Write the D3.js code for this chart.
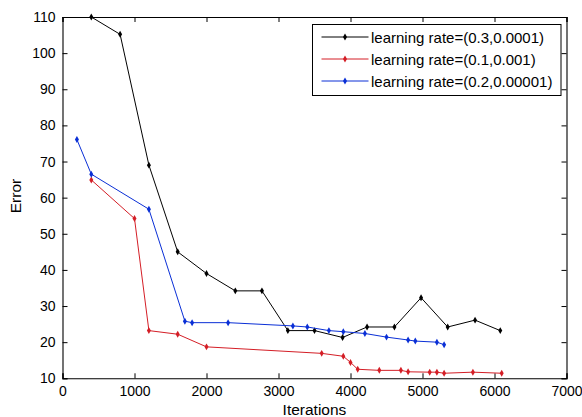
<!DOCTYPE html>
<html>
<head>
<meta charset="utf-8">
<script src="https://cdn.jsdelivr.net/npm/d3@7"></script>
<style>
  body { margin: 0; background: #fff; }
  text { font-family: "Liberation Sans", Arial, sans-serif; fill: #000; }
</style>
</head>
<body>
<svg id="chart" width="582" height="417"></svg>
<script>
// values
const blackX = [400, 800, 1200, 1600, 2000, 2400, 2770, 3130, 3500, 3890, 4230, 4610, 4980, 5350, 5730, 6080]
const blackY = [110, 105.2, 69, 45, 39, 34.2, 34.2, 23.2, 23.2, 21.3, 24.2, 24.2, 32.3, 24.2, 26.1, 23.2]

const redX = [400, 1000, 1200, 1600, 2000, 3600, 3900, 4000, 4100, 4400, 4700, 4800, 5100, 5200, 5300, 5700, 6100]
const redY = [64.9, 54.2, 23.2, 22.2, 18.7, 16.9, 16.1, 14.4, 12.5, 12.2, 12.2, 11.8, 11.7, 11.7, 11.4, 11.7, 11.4]

const blueX = [200, 400, 1200, 1700, 1800, 2300, 3200, 3400, 3700, 3900, 4200, 4500, 4800, 4900, 5200, 5300]
const blueY = [76.1, 66.5, 56.8, 25.8, 25.4, 25.4, 24.5, 24.2, 23.2, 22.9, 22.4, 21.4, 20.6, 20.3, 20.0, 19.3]

const seriesNames = ['learning rate=(0.3,0.0001)', 'learning rate=(0.1,0.001)', 'learning rate=(0.2,0.00001)']
const seriesColors = ['#000000', '#d41e26', '#0a2fd6']

const xTicks = [0, 1000, 2000, 3000, 4000, 5000, 6000, 7000]
const yTicks = [10, 20, 30, 40, 50, 60, 70, 80, 90, 100, 110]

const series = [
  { name: seriesNames[0], color: seriesColors[0], pts: blackX.map((x, i) => [x, blackY[i]]) },
  { name: seriesNames[1], color: seriesColors[1], pts: redX.map((x, i) => [x, redY[i]]) },
  { name: seriesNames[2], color: seriesColors[2], pts: blueX.map((x, i) => [x, blueY[i]]) }
]

const plotLeft = 62.5
const plotRight = 566.5
const plotTop = 17
const plotBottom = 378.3

const svg = d3.select('#chart')
const x = d3.scaleLinear().domain([0, 7000]).range([plotLeft, plotRight])
const y = d3.scaleLinear().domain([10, 110]).range([plotBottom, plotTop])

// axes box with inward ticks on all four sides
svg.append('g')
  .attr('transform', `translate(0,${plotBottom})`)
  .call(d3.axisBottom(x).tickValues(xTicks).tickSize(-5).tickPadding(8).tickFormat(d3.format('d')))
svg.append('g')
  .attr('transform', `translate(0,${plotTop})`)
  .call(d3.axisTop(x).tickValues(xTicks).tickSize(-5).tickFormat(''))
svg.append('g')
  .attr('transform', `translate(${plotLeft},0)`)
  .call(d3.axisLeft(y).tickValues(yTicks).tickSize(-5).tickPadding(7))
svg.append('g')
  .attr('transform', `translate(${plotRight},0)`)
  .call(d3.axisRight(y).tickValues(yTicks).tickSize(-5).tickFormat(''))

svg.selectAll('.domain').attr('stroke', '#000').attr('stroke-width', 1.1)
svg.selectAll('.tick line').attr('stroke', '#000')
svg.selectAll('.tick text')
  .style('font-size', '14px')
  .style('font-family', '"Liberation Sans", Arial, sans-serif')
  .attr('fill', '#111')

const line = d3.line().x(d => x(d[0])).y(d => y(d[1]))
const diamond = d3.symbol(d3.symbolDiamond, 14)

series.forEach(s => {
  svg.append('path')
    .datum(s.pts)
    .attr('d', line)
    .attr('fill', 'none')
    .attr('stroke', s.color)
    .attr('stroke-width', 1)

  svg.append('g').selectAll('path')
    .data(s.pts)
    .enter()
    .append('path')
    .attr('d', diamond)
    .attr('transform', d => `translate(${x(d[0])},${y(d[1])})`)
    .attr('fill', s.color)
})

// axis labels
svg.append('text')
  .attr('x', (plotLeft + plotRight) / 2)
  .attr('y', 415)
  .attr('text-anchor', 'middle')
  .style('font-size', '15.5px')
  .text('Iterations')

svg.append('text')
  .attr('transform', 'translate(21,196) rotate(-90)')
  .attr('text-anchor', 'middle')
  .style('font-size', '15.5px')
  .text('Error')

// legend
const legend = svg.append('g')
legend.append('rect')
  .attr('x', 312.5)
  .attr('y', 24.5)
  .attr('width', 248.5)
  .attr('height', 71)
  .attr('fill', '#fff')
  .attr('stroke', '#000')
  .attr('stroke-width', 1)

const rows = legend.selectAll('.legend-element')
  .data(series)
  .enter()
  .append('g')
  .attr('class', 'legend-element')
  .attr('transform', (d, i) => `translate(0,${37 + i * 22})`)

rows.append('line')
  .attr('x1', 321.5)
  .attr('x2', 368.5)
  .attr('stroke', d => d.color)
  .attr('stroke-width', 1)
rows.append('path')
  .attr('d', diamond)
  .attr('transform', 'translate(345,0)')
  .attr('fill', d => d.color)
rows.append('text')
  .attr('x', 371)
  .attr('y', 5.5)
  .style('font-size', '15px')
  .text(d => d.name)
</script>
</body>
</html>
